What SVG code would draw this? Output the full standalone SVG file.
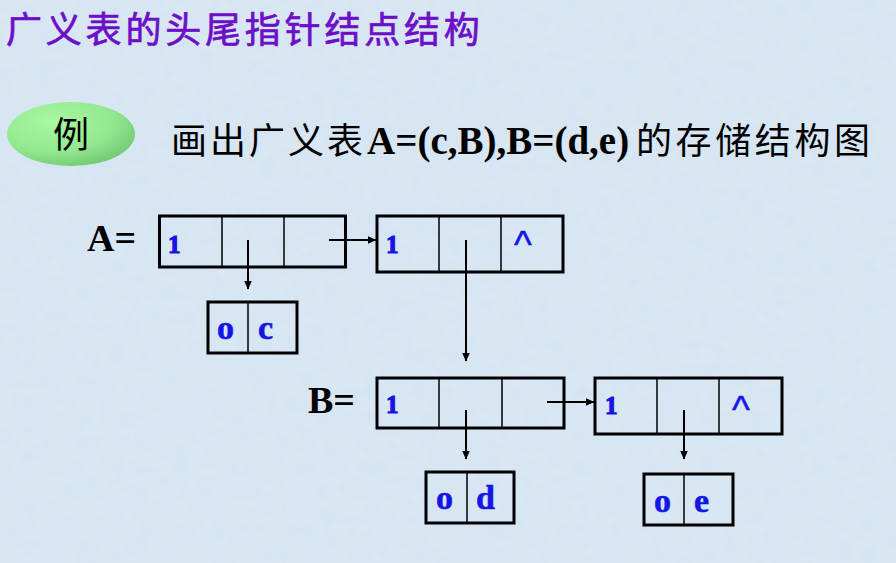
<svg xmlns="http://www.w3.org/2000/svg" width="896" height="563" viewBox="0 0 896 563">
<defs>
<style>
.box{fill:none;stroke:#000;stroke-width:3}
.div{stroke:#000;stroke-width:1.5}
.con{stroke:#000;stroke-width:2;fill:none;marker-end:url(#ah)}
.v{font-family:"Liberation Serif",serif;font-weight:bold;fill:#1515e6;stroke:#1515e6;stroke-width:0.6;font-size:34px}
.one{font-family:"Liberation Serif",serif;font-weight:bold;fill:#1515e6;stroke:#1515e6;stroke-width:1.2;font-size:25px}
.car{font-family:"Liberation Sans",sans-serif;fill:#1515e6;stroke:#1515e6;stroke-width:0.5;font-size:38px}
.lab{font-family:"Liberation Serif",serif;font-weight:bold;fill:#000;font-size:38px}
</style>
<marker id="ah" markerWidth="9" markerHeight="8" refX="8.5" refY="4" orient="auto" markerUnits="userSpaceOnUse">
<path d="M0,0 L9,4 L0,8 z" fill="#000"/>
</marker>
<radialGradient id="eg" cx="0.35" cy="0.3" r="0.8">
<stop offset="0" stop-color="#a8f8a0"/>
<stop offset="0.6" stop-color="#92e890"/>
<stop offset="1" stop-color="#6cc46c"/>
</radialGradient>
<filter id="tex" x="0" y="0" width="100%" height="100%">
<feTurbulence type="fractalNoise" baseFrequency="0.08" numOctaves="2" seed="3" result="n"/>
<feColorMatrix in="n" type="matrix" values="0 0 0 0 1  0 0 0 0 1  0 0 0 0 1  0 0 0 0.18 0" result="w"/>
<feComposite in="w" in2="SourceGraphic" operator="over"/>
</filter>
</defs>
<rect width="896" height="563" fill="#d3e3f1" filter="url(#tex)"/>

<text x="6" y="43" font-family="'Noto Sans CJK SC',sans-serif" font-size="36" letter-spacing="3.8" fill="#6e0fc8" stroke="#6e0fc8" stroke-width="0.7">广义表的头尾指针结点结构</text>

<g id="ex">
<ellipse cx="71" cy="134" rx="64" ry="32" fill="url(#eg)"/>
<text x="71" y="148" text-anchor="middle" font-family="'Noto Sans CJK SC',sans-serif" font-size="36" fill="#000">例</text>
</g>

<g id="question">
<text x="171" y="154" font-family="'Noto Sans CJK SC',sans-serif" font-size="36" letter-spacing="3" fill="#000">画出广义表</text>
<text x="367" y="154" font-family="'Liberation Serif',serif" font-weight="bold" font-size="39" fill="#000">A=(c,B),B=(d,e)</text>
<text x="636" y="154" font-family="'Noto Sans CJK SC',sans-serif" font-size="36" letter-spacing="3.6" fill="#000">的存储结构图</text>
</g>

<text id="labA" class="lab" x="87" y="251">A=</text>
<text id="labB" class="lab" x="308" y="413">B=</text>

<g id="nodeA1">
<rect class="box" x="159.5" y="216" width="186" height="51"/>
<line class="div" x1="222" y1="216" x2="222" y2="267"/>
<line class="div" x1="284" y1="216" x2="284" y2="267"/>
<text class="one" x="168" y="253">1</text>
</g>
<g id="nodeA2">
<rect class="box" x="377" y="216" width="186" height="56"/>
<line class="div" x1="439" y1="216" x2="439" y2="272"/>
<line class="div" x1="501" y1="216" x2="501" y2="272"/>
<text class="one" x="386" y="253">1</text>
<text class="car" x="514" y="258">^</text>
</g>
<g id="nodeOC">
<rect class="box" x="208" y="302" width="89" height="51"/>
<line class="div" x1="248" y1="302" x2="248" y2="353"/>
<text class="v" x="217" y="339">o</text>
<text class="v" x="258" y="339">c</text>
</g>
<g id="nodeB1">
<rect class="box" x="377" y="378" width="187" height="50"/>
<line class="div" x1="439" y1="378" x2="439" y2="428"/>
<line class="div" x1="502" y1="378" x2="502" y2="428"/>
<text class="one" x="386" y="413">1</text>
</g>
<g id="nodeB2">
<rect class="box" x="595" y="378" width="187" height="56"/>
<line class="div" x1="657" y1="378" x2="657" y2="434"/>
<line class="div" x1="719" y1="378" x2="719" y2="434"/>
<text class="one" x="605" y="414">1</text>
<text class="car" x="732" y="423">^</text>
</g>
<g id="nodeOD">
<rect class="box" x="426" y="472" width="88" height="51"/>
<line class="div" x1="467" y1="472" x2="467" y2="523"/>
<text class="v" x="436" y="509">o</text>
<text class="v" x="476" y="509">d</text>
</g>
<g id="nodeOE">
<rect class="box" x="644" y="474" width="89" height="51"/>
<line class="div" x1="684" y1="474" x2="684" y2="525"/>
<text class="v" x="654" y="512">o</text>
<text class="v" x="694" y="512">e</text>
</g>

<g id="connectors">
<line class="con" x1="329" y1="240" x2="376" y2="240"/>
<line class="con" x1="248" y1="240" x2="248" y2="289"/>
<line class="con" x1="466" y1="240" x2="466" y2="361"/>
<line class="con" x1="547" y1="402" x2="594" y2="402"/>
<line class="con" x1="466" y1="410" x2="466" y2="459"/>
<line class="con" x1="684" y1="410" x2="684" y2="459"/>
</g>
</svg>
